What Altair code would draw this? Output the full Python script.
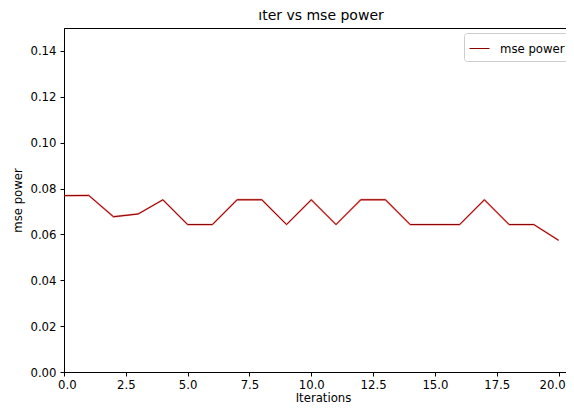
import altair as alt
import pandas as pd

iterations = list(range(21))
mse_power = [0.0769, 0.0770, 0.0677, 0.0689, 0.0751, 0.0643, 0.0643, 0.0751, 0.0751, 0.0643,
             0.0751, 0.0643, 0.0751, 0.0751, 0.0643, 0.0643, 0.0643, 0.0751, 0.0643, 0.0643, 0.0574]
series_name = "mse power"
x_ticks = [0, 2.5, 5, 7.5, 10, 12.5, 15, 17.5, 20]
y_ticks = [0, 0.02, 0.04, 0.06, 0.08, 0.10, 0.12, 0.14]

df = pd.DataFrame({"iter": iterations, "mse": mse_power, "series": series_name})

FONT = "DejaVu Sans"
FS = 11.7
xenc = alt.X("iter:Q",
             scale=alt.Scale(domain=[0, 20.3], nice=False, zero=False),
             axis=alt.Axis(values=x_ticks, format=".1f", title="Iterations", grid=False,
                           tickSize=4, tickColor="black", domainColor="black",
                           labelColor="black", labelFont=FONT, labelFontSize=FS,
                           titleFont=FONT, titleFontSize=FS, titleFontWeight="normal",
                           titleColor="black", titlePadding=2, labelPadding=3,
                           labelFlush=10, labelFlushOffset=6.5,
                           labelOverlap=False, titleX=259))
yenc = alt.Y("mse:Q",
             scale=alt.Scale(domain=[0, 0.15], nice=False),
             axis=alt.Axis(values=y_ticks, format=".2f", title="mse power", grid=False,
                           tickSize=4, tickColor="black", domainColor="black",
                           labelColor="black", labelFont=FONT, labelFontSize=FS,
                           titleFont=FONT, titleFontSize=FS, titleFontWeight="normal",
                           titleColor="black", titlePadding=6, labelPadding=4,
                           labelFlush=False, labelOverlap=False))

under = alt.Chart(df).mark_line(color="#e02020", strokeWidth=1.8, opacity=0.55).encode(x=xenc, y=yenc)
over = alt.Chart(df).mark_line(strokeWidth=1).encode(
    x=xenc, y=yenc,
    color=alt.Color("series:N",
                    scale=alt.Scale(range=["darkred"]),
                    legend=alt.Legend(title=None, orient="none", legendX=400, legendY=5,
                                      strokeColor="#cccccc", fillColor="white",
                                      padding=5, cornerRadius=3, symbolType="stroke",
                                      symbolSize=400, symbolStrokeWidth=1,
                                      labelFont=FONT, labelFontSize=FS, labelColor="black",
                                      labelOffset=10)))

chart = alt.layer(under, over).properties(
    width=502, height=344,
    title=alt.TitleParams("ıter vs mse power", font=FONT, fontSize=14, fontWeight="normal",
                          color="black", anchor="middle", dx=6, offset=5),
    autosize=alt.AutoSizeParams(type="none"),
    padding={"left": 56, "top": 20, "right": 0, "bottom": 34},
).configure_view(stroke="black", strokeWidth=1)

chart.save("out.html", embed_options={"renderer": "svg", "actions": False})
